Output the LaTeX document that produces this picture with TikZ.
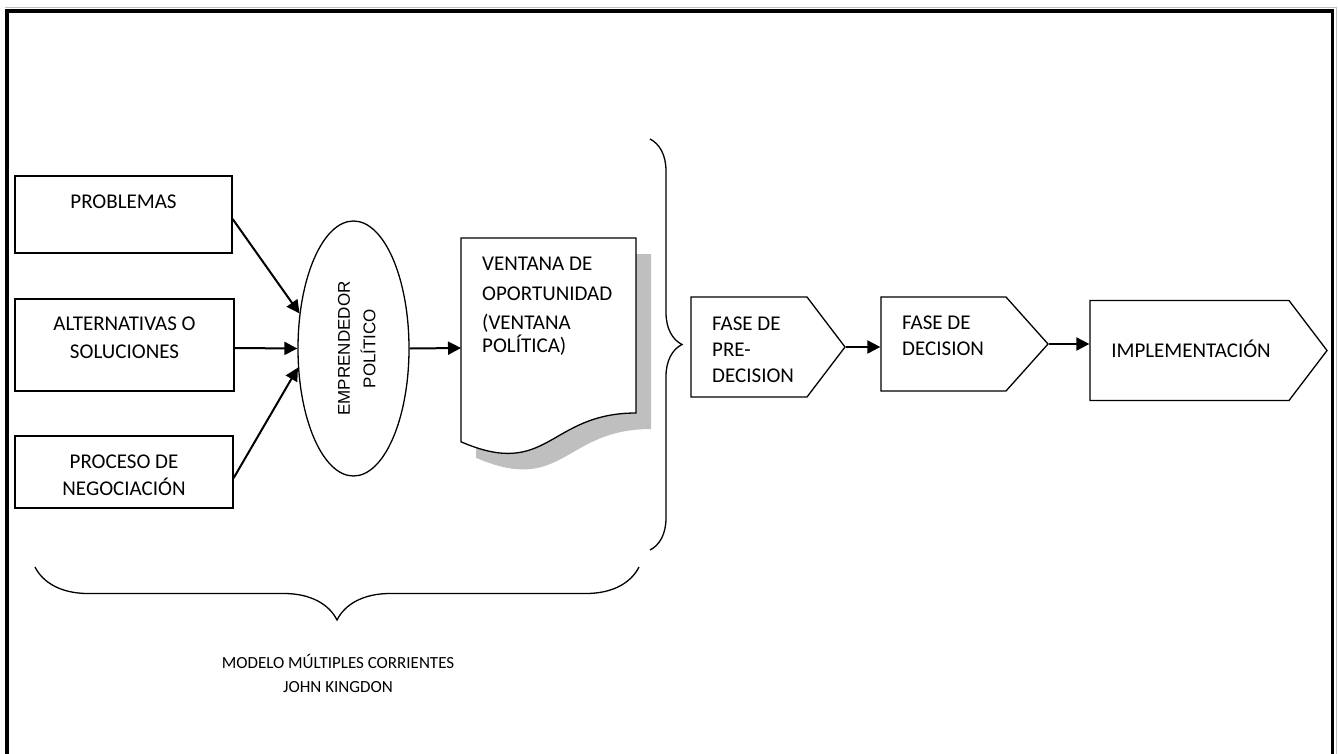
\documentclass[tikz,border=0pt]{standalone}
\usepackage{fontspec}
\setmainfont{Carlito}
\newfontfamily\arialfont{Liberation Sans}
\usetikzlibrary{arrows.meta,shapes.geometric,shapes.symbols,decorations.pathreplacing}

\begin{document}
\begin{tikzpicture}[x=1pt,y=-1pt,
  caja/.style={draw,line width=1.3pt,inner sep=0pt},
  fase/.style={draw,line width=1.3pt,signal,signal to=east,inner sep=0pt},
  texto/.style={font=\fontsize{21}{27.5}\selectfont,align=center,inner sep=0pt},
  flecha/.style={line width=2pt,-{Triangle[length=13pt,width=13pt]}},
  llave/.style={decorate,line width=1.3pt}]
\useasboundingbox (0,0) rectangle (1338,753);
% marco
\draw[gray!50,line width=0.8pt] (5,7) -- (1336,7) -- (1336,760);
\draw[line width=3.6pt] (7,760) -- (7,11) -- (1332.5,11) -- (1332.5,760);

% corrientes
\node[caja,minimum width=217pt,minimum height=77pt] (prob) at (123.5,214.5) {};
\node[texto,anchor=north] at (123.5,194.3) {PROBLEMAS};
\node[caja,minimum width=219pt,minimum height=92pt] (alt) at (124.5,345) {};
\node[texto,anchor=north] at (124.5,316.7) {ALTERNATIVAS O\\SOLUCIONES};
\node[caja,minimum width=218pt,minimum height=72pt] (proc) at (124,472) {};
\node[texto,anchor=north] at (124,454.3) {PROCESO DE\\NEGOCIACIÓN};

% emprendedor
\node[caja,ellipse,minimum width=111pt,minimum height=255pt] (emp) at (353.5,348.5) {};
\node[rotate=90,align=center,inner sep=0pt,font=\arialfont\fontsize{17}{25.4}\selectfont] at (356.7,348.5) {EMPRENDEDOR\\POLÍTICO};

\draw[flecha] ([yshift=-4.5pt]prob.east) -- (emp.147);
\draw[flecha] ([yshift=-3pt]alt.east) -- (emp.west);
\draw[flecha] ([yshift=-6pt]proc.east) -- (emp.199);

% ventana
\fill[gray!50] (476,254) -- (651,254) -- (651,429) .. controls (563.5,429) and (563.5,495.6) .. (476,457.8) -- cycle;
\draw[line width=1.3pt,fill=white] (461,238) -- (636,238) -- (636,413) .. controls (548.5,413) and (548.5,479.6) .. (461,441.8) -- cycle;
\coordinate (doc) at (461,348);
\node[texto,align=left,anchor=north west,font=\fontsize{21}{29.3}\selectfont] at (482,257.3) {VENTANA DE\\OPORTUNIDAD\\(VENTANA\\[-5.9pt]POLÍTICA)};
\draw[flecha] (emp.east) -- (doc);

% llaves
\draw[llave,decoration={brace,amplitude=32pt}] (650,139) -- (650,550);
\draw[llave,decoration={brace,amplitude=53pt}] (639,567) -- (35,567);
\node[texto,font=\fontsize{17}{23.7}\selectfont,anchor=south] at (338,692.7) {MODELO MÚLTIPLES CORRIENTES\\JOHN KINGDON};

% fases
\node[fase,minimum width=154pt,minimum height=100pt,signal pointer angle=105.5] (f1) at (749,347) {};
\node[texto,align=left,anchor=north west,font=\fontsize{21}{26}\selectfont] at (712,316.7) {FASE DE\\PRE-\\DECISION};
\node[fase,minimum width=167pt,minimum height=94pt,signal pointer angle=96.4] (f2) at (943.5,344) {};
\node[texto,align=left,anchor=north west,font=\fontsize{21}{26}\selectfont] at (902,316) {FASE DE\\DECISION};
\node[fase,minimum width=237pt,minimum height=100pt,signal pointer angle=105.5] (f3) at (1189.5,350.5) {};
\node[texto,anchor=base] at (1191,357) {IMPLEMENTACIÓN};

\draw[flecha] (f1.east) -- (f1.east -| f2.west);
\draw[flecha] (f2.east) -- (f2.east -| f3.west);
\end{tikzpicture}
\end{document}
